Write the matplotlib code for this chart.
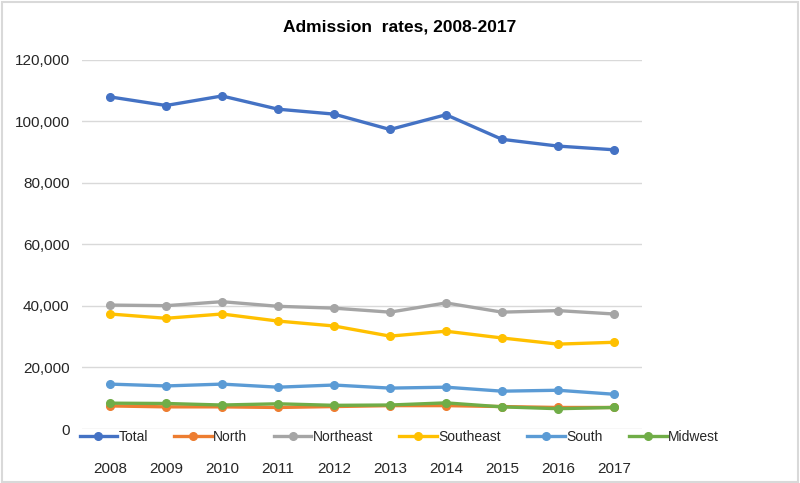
import matplotlib.pyplot as plt
from matplotlib.patches import Rectangle
from matplotlib.ticker import FuncFormatter

plt.rcParams['font.family'] = ['Liberation Sans', 'DejaVu Sans']

years = ['2008', '2009', '2010', '2011', '2012', '2013', '2014', '2015', '2016', '2017']
total = [108000, 105200, 108300, 104000, 102400, 97400, 102200, 94200, 92000, 90800]
north = [7500, 7200, 7200, 7000, 7300, 7600, 7600, 7300, 7000, 7000]
northeast = [40300, 40100, 41400, 39900, 39300, 38000, 41000, 38000, 38500, 37400]
southeast = [37400, 36000, 37400, 35100, 33500, 30200, 31800, 29600, 27600, 28200]
south = [14600, 14000, 14600, 13600, 14300, 13300, 13600, 12300, 12600, 11300]
midwest = [8400, 8300, 7800, 8200, 7700, 7800, 8500, 7200, 6600, 7000]

series = [
    ('Total', total, '#4472C4'),
    ('North', north, '#ED7D31'),
    ('Northeast', northeast, '#A5A5A5'),
    ('Southeast', southeast, '#FFC000'),
    ('South', south, '#5B9BD5'),
    ('Midwest', midwest, '#70AD47'),
]

fig = plt.figure(figsize=(8, 4.83), dpi=100)
ax = fig.add_axes([0.1025, 0.1118, 0.70, 0.764])

x = list(range(len(years)))
for name, vals, col in series:
    ax.plot(x, vals, color=col, lw=2.4, marker='o', ms=5.5, label=name)

ax.set_xlim(-0.5, len(years) - 0.5)
ax.set_ylim(0, 120000)
ax.set_yticks(range(0, 120001, 20000))
ax.yaxis.set_major_formatter(FuncFormatter(lambda v, p: f'{int(v):,}' if v else '0'))
ax.set_xticks(x)
ax.set_xticklabels(years)
ax.grid(axis='y', color='#D9D9D9', lw=1)
ax.set_axisbelow(True)
for s in ax.spines.values():
    s.set_visible(False)
ax.tick_params(axis='both', length=0, labelsize=11, colors='#262626')
ax.tick_params(axis='y', pad=9)
ax.tick_params(axis='x', pad=24)

fig.text(0.5, 0.945, 'Admission  rates, 2008-2017', ha='center', va='center',
         fontsize=12.5, fontweight='bold', color='#000000')

fig.legend(loc='center', bbox_to_anchor=(0.499, 0.095), ncol=6, frameon=False,
           fontsize=10, handlelength=2.7, columnspacing=1.9, handletextpad=0.1,
           labelcolor='#262626')

fig.add_artist(Rectangle((0.002, 0.003), 0.995, 0.992, transform=fig.transFigure,
                         fill=False, edgecolor='#D9D9D9', lw=1.5))

fig.savefig('out.png', dpi=100)
